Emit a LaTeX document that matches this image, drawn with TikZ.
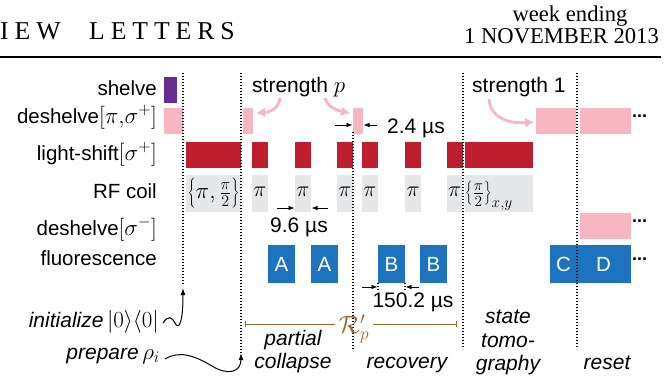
\RequirePackage{fix-cm}
\documentclass[tikz,border=0pt]{standalone}
\usepackage{fontspec}
\newfontfamily\hdr{Liberation Serif}
\newfontfamily\sff{Liberation Sans}
\usetikzlibrary{arrows.meta}
\definecolor{cpurple}{RGB}{102,45,145}
\definecolor{cpink}{RGB}{247,182,194}
\definecolor{cred}{RGB}{190,30,45}
\definecolor{cblue}{RGB}{30,115,190}
\definecolor{cgrey}{RGB}{230,231,232}
\definecolor{cbrown}{RGB}{160,100,55}
\newcommand{\lmath}[1]{{\fontsize{23}{25}\selectfont$#1$}}
\tikzset{
  lab/.style={anchor=base east, inner sep=0pt, font=\sff\fontsize{20.5}{22}\selectfont},
  txt/.style={inner sep=0pt, font=\sff\fontsize{21}{23}\selectfont},
  itx/.style={anchor=base, inner sep=0pt, font=\sff\itshape\fontsize{21}{23}\selectfont},
  mth/.style={inner sep=0pt, font=\fontsize{22}{24}\selectfont},
  dotsty/.style={inner sep=0pt, font=\sff\bfseries\fontsize{18}{20}\selectfont},
  boxtxt/.style={inner sep=0pt, text=white, font=\sff\fontsize{20.5}{22}\selectfont},
  vline/.style={line width=1.2pt, dash pattern=on 1.3pt off 1.7pt},
  dimarrow/.style={line width=0.8pt, -{Latex[length=6pt,width=4.5pt]}},
  blackarrow/.style={line width=1pt, -{Latex[length=7pt,width=5pt]}},
  pinkarrow/.style={draw=cpink, line width=2.8pt, -{Latex[length=9pt,width=10pt]}},
  hdrfont/.style={inner sep=0pt, font=\hdr\fontsize{22.6}{24}\selectfont},
}
\begin{document}
\begin{tikzpicture}[x=1pt,y=-1pt]
\useasboundingbox (0,0) rectangle (672,383);
% header
\node[anchor=base west, inner sep=0pt, font=\hdr\fontsize{25.7}{28}\selectfont\addfontfeature{LetterSpace=23}] (hd1) at (0,39) {IEW};
\node[anchor=base west, inner sep=0pt, font=\hdr\fontsize{25.7}{28}\selectfont\addfontfeature{LetterSpace=23}] (hd2) at (89,39) {LETTERS};
\node[hdrfont, anchor=base] (we) at (570,21) {week ending};
\node[hdrfont, anchor=base] (date) at (561.5,43) {1 NOVEMBER 2013};
\draw[line width=2.2pt] (0,57) -- (661,57);

% row labels
\node[lab] (lshelve) at (157,95) {shelve};
\node[lab] (ldesh) at (157,123) {deshelve\lmath{[\pi,\!\sigma^+]}};
\node[lab] (lls) at (157,160) {light-shift\lmath{[\sigma^+]}};
\node[lab] (lrf) at (157,198) {RF coil};
\node[lab] (ldesh2) at (157,235) {deshelve\lmath{[\sigma^-]}};
\node[lab] (lfl) at (157,265) {fluorescence};

% shelve
\fill[cpurple] (164,77) rectangle (176.5,102.5);
% deshelve pi sigma+
\fill[cpink] (164,108) rectangle (182.5,134);
\fill[cpink] (243,108) rectangle (253,134);
\fill[cpink] (353,108) rectangle (363,134);
\fill[cpink] (536,108) rectangle (576,134);
\fill[cpink] (580,108) rectangle (631,134);
% light shift
\foreach \a/\b in {186/241,252/268,295/311,337/353,362/378,405/421,447/463,465/533}
  \fill[cred] (\a,142) rectangle (\b,168);
% RF coil
\foreach \a/\b in {186/241,252/268,295/311,337/353,362/378,405/421,447/462,465/533}
  \fill[cgrey] (\a,175) rectangle (\b,212);
% deshelve sigma-
\fill[cpink] (580,213) rectangle (631,239);
% fluorescence
\foreach \a/\b in {268/295,311/338,378/405,420/447}
  \fill[cblue] (\a,245) rectangle (\b,282.5);
\fill[cblue] (550,245) rectangle (631,283);

% RF coil texts
\node[mth, font=\fontsize{23}{25}\selectfont] (rf0) at (213.5,193) {$\left\{\pi,\frac{\pi}{2}\right\}$};
\foreach \c/\n in {260/rf1,303/rf2,345/rf3,370/rf4,413/rf5,454.5/rf6}
  \node[mth] (\n) at (\c,192) {$\pi$};
\node[mth, anchor=west] (rf7) at (465,196) {$\left\{\frac{\pi}{2}\right\}_{x,y}$};

% fluorescence letters
\node[boxtxt] (fa1) at (281.5,264) {A};
\node[boxtxt] (fa2) at (324.5,264) {A};
\node[boxtxt] (fb1) at (391.5,264) {B};
\node[boxtxt] (fb2) at (433.5,264) {B};
\node[boxtxt] (fc) at (563.5,264) {C};
\node[boxtxt] (fd) at (603.5,264) {D};

% dots
\node[dotsty, anchor=west] (d1) at (632,116) {...};
\node[dotsty, anchor=west] (d2) at (632,221) {...};
\node[dotsty, anchor=west] (d3) at (632,259) {...};

% vertical dotted lines
\coordinate (v1t) at (183,73); \coordinate (v1b) at (183,286);
\coordinate (v2t) at (241,73); \coordinate (v2b) at (241,354);
\draw[vline] (v1t) -- (v1b);
\draw[vline] (v2t) -- (v2b);
\draw[vline] (353,132) -- (353,350);
\draw[vline] (463,73) -- (463,349);
\draw[vline] (577,73) -- (577,349);
\draw[vline] (378,283) -- (378,291);
\draw[vline] (405,283) -- (405,291);

% strength texts and pink arrows
\node[txt, anchor=base west] (sp) at (252,92) {strength \lmath{p}};
\node[txt, anchor=base west] (s1) at (472,92) {strength 1};
\draw[pinkarrow] (280,98) .. controls (279,107) and (272,112) .. (256,113);
\draw[pinkarrow] (325,98) .. controls (327,106) and (335,110) .. (350,113);
\draw[pinkarrow] (489,99) .. controls (490,116) and (506,124) .. (534,122);

% dimensions
\draw[dimarrow] (335,125) -- (352.5,125);
\draw[dimarrow] (377,125) -- (363.5,125);
\node[txt, anchor=base west] (t24) at (387,133) {2.4 µs};
\draw[dimarrow] (277,208) -- (294.5,208);
\draw[dimarrow] (328,208) -- (311.5,208);
\node[txt, anchor=base] (t96) at (299,232) {9.6 µs};
\draw[dimarrow] (362,287) -- (377.5,287);
\draw[dimarrow] (419,287) -- (405.5,287);
\node[txt, anchor=base] (t150) at (413,307) {150.2 µs};

% R'_p bracket
\node[inner sep=0pt, text=cbrown, font=\fontsize{25}{27}\selectfont] (Rp) at (354,329) {$\mathcal{R}'_p$};
\draw[cbrown, line width=1pt, {Bar[width=6pt]}-] (245,324) -- (335,324);
\draw[cbrown, line width=1pt, -{Bar[width=6pt]}] (373,324) -- (457,324);

% phase labels
\node[itx] (pc1) at (293,345) {partial};
\node[itx] (pc2) at (293,368) {collapse};
\node[itx] (rec) at (407,368) {recovery};
\node[itx] (st1) at (508,323) {state};
\node[itx] (st2) at (508,347) {tomo-};
\node[itx] (st3) at (508,370) {graphy};
\node[itx] (rst) at (607,369) {reset};

% initialize / prepare
\node[itx, anchor=base east] (ini) at (159,327) {initialize\,\upshape\lmath{|0\rangle\langle0|}};
\node[itx, anchor=base east] (prep) at (160,359) {prepare\,\upshape\lmath{\rho_i}};
\draw[blackarrow] (163,323) .. controls (168,315) and (172,317) .. (175,323) .. controls (179,331) and (183,322) .. (183,288);
\draw[blackarrow] (165,359) .. controls (180,350) and (195,356) .. (212,366) .. controls (228,376) and (241,372) .. (241,353);
\end{tikzpicture}
\end{document}
